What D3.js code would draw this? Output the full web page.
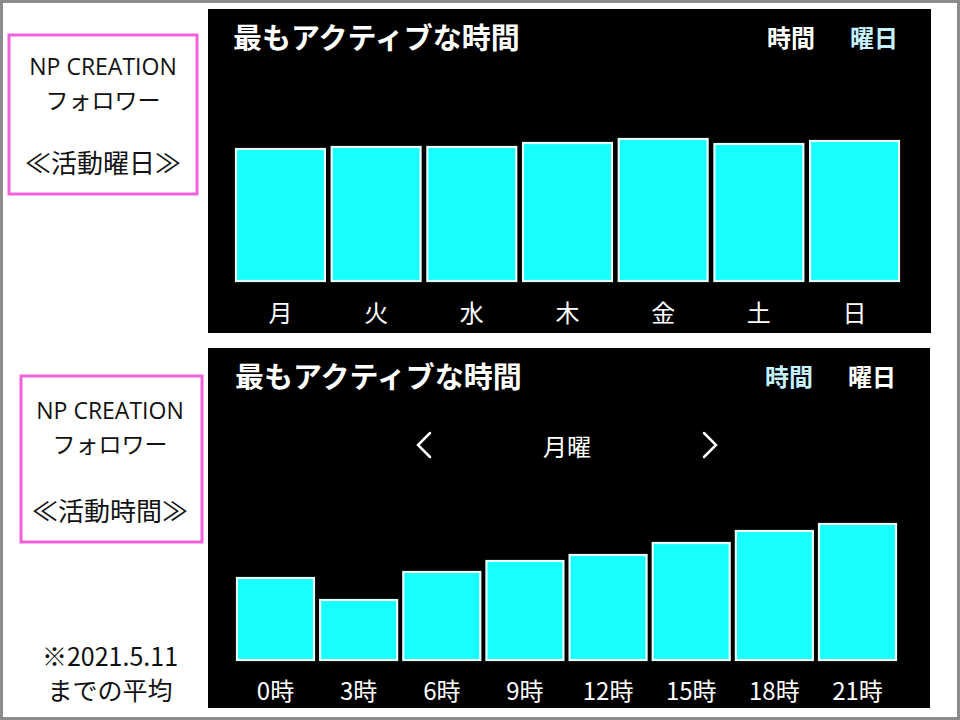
<!DOCTYPE html>
<html><head><meta charset="utf-8">
<script src="https://cdn.jsdelivr.net/npm/d3@7"></script>
<style>html,body{margin:0;padding:0;background:#fff;}svg{display:block;}</style>
</head><body>
<script>
// ---- data ----
const dayCategories = ["月", "火", "水", "木", "金", "土", "日"];
const dayValues = [134, 136, 136, 140, 144, 139, 142];
const hourCategories = ["0時", "3時", "6時", "9時", "12時", "15時", "18時", "21時"];
const hourValues = [84, 62, 90, 101, 107, 119, 131, 138];
const panelTitle = "最もアクティブな時間";
const tabLabels = ["時間", "曜日"];
const selectedDay = "月曜";
const box1Lines = ["NP CREATION", "フォロワー", "", "≪活動曜日≫"];
const box2Lines = ["NP CREATION", "フォロワー", "", "≪活動時間≫"];
const noteLines = ["※2021.5.11", "までの平均"];

const W = 960, H = 720;
const FONT = "'Noto Sans CJK JP','Noto Sans',sans-serif";
const LATIN = "'Open Sans','Noto Sans',sans-serif";
const CYAN = "#19ffff", EDGE = "#e6ffff", TABON = "#c4f2ff";

const svg = d3.select("body").append("svg").attr("width", W).attr("height", H)
  .style("font-family", FONT);

// outer frame
svg.append("rect").attr("x", 0).attr("y", 0).attr("width", W).attr("height", H).attr("fill", "#8c8c8c");
svg.append("rect").attr("x", 3).attr("y", 3).attr("width", W - 6).attr("height", H - 6).attr("fill", "#fff");

function panel(cfg) {
  const g = svg.append("g");
  g.append("rect").attr("x", cfg.x0).attr("y", cfg.y0).attr("width", cfg.x1 - cfg.x0)
    .attr("height", cfg.y1 - cfg.y0).attr("fill", "#000");
  g.append("text").attr("x", cfg.titleX).attr("y", cfg.y0 + 27)
    .attr("dominant-baseline", "central")
    .attr("fill", "#fff").attr("font-size", 29).attr("font-weight", 700).text(panelTitle);
  tabLabels.forEach((t, i) => {
    g.append("text").attr("x", cfg.tabX[i]).attr("y", cfg.y0 + 27)
      .attr("dominant-baseline", "central")
      .attr("text-anchor", "middle").attr("font-size", 24).attr("font-weight", 700)
      .attr("fill", i === cfg.activeTab ? TABON : "#fff").text(t);
  });
  const x = d3.scaleBand().domain(cfg.cats).range([cfg.bx0, cfg.bx1]).paddingInner(cfg.pad).paddingOuter(0);
  const y = d3.scaleLinear().domain([0, 200]).range([cfg.base, cfg.base - 200]);
  g.selectAll("rect.bar").data(cfg.vals).join("rect").attr("class", "bar")
    .attr("x", (d, i) => x(cfg.cats[i]) + 1)
    .attr("y", d => y(d) + 1)
    .attr("width", x.bandwidth() - 2)
    .attr("height", d => y(0) - y(d) - 2)
    .attr("fill", CYAN).attr("stroke", EDGE).attr("stroke-width", 2.2);
  const axis = d3.axisBottom(x).tickSize(0).tickPadding(0);
  const ag = g.append("g").attr("transform", `translate(0,${cfg.labelY})`).call(axis);
  ag.select(".domain").remove();
  ag.selectAll("text").attr("fill", "#fff").attr("font-size", cfg.labelSize)
    .attr("font-family", FONT).attr("dy", 0).attr("dominant-baseline", "central");
  return g;
}

panel({x0: 208, y0: 9, x1: 931, y1: 333, titleX: 233, tabX: [791, 874], activeTab: 1,
  cats: dayCategories, vals: dayValues, bx0: 235, bx1: 900, pad: 0.05, base: 282,
  labelY: 311, labelSize: 24});

const g2 = panel({x0: 208, y0: 348, x1: 930, y1: 708, titleX: 235, tabX: [789, 872], activeTab: 0,
  cats: hourCategories, vals: hourValues, bx0: 236, bx1: 897, pad: 0.05, base: 661,
  labelY: 689, labelSize: 24});

// day selector
g2.append("path").attr("d", "M430,433 L418,445 L430,457").attr("fill", "none")
  .attr("stroke", "#fff").attr("stroke-width", 2.5).attr("stroke-linecap", "round");
g2.append("path").attr("d", "M704,433 L716,445 L704,457").attr("fill", "none")
  .attr("stroke", "#fff").attr("stroke-width", 2.5).attr("stroke-linecap", "round");
g2.append("text").attr("x", 567).attr("y", 445).attr("text-anchor", "middle")
  .attr("dominant-baseline", "central").attr("fill", "#fff").attr("font-size", 24).text(selectedDay);

// side boxes
function sideBox(x0, y0, x1, y1, lines, ys, cx) {
  svg.append("rect").attr("x", x0).attr("y", y0).attr("width", x1 - x0).attr("height", y1 - y0)
    .attr("fill", "#fff").attr("stroke", "#f062dc").attr("stroke-width", 3);
  lines.forEach((t, i) => {
    if (!t) return;
    svg.append("text").attr("x", cx).attr("y", ys[i]).attr("text-anchor", "middle")
      .attr("dominant-baseline", "central").attr("fill", "#111")
      .attr("font-family", i === 0 ? LATIN : FONT)
      .attr("font-size", [23, 23, 0, 26][i]).text(t);
  });
}
sideBox(9, 35, 197, 194, box1Lines, [66, 99, 0, 161], 103);
sideBox(21, 376, 202, 542, box2Lines, [410, 443, 0, 509], 110);

noteLines.forEach((t, i) => {
  svg.append("text").attr("x", 110).attr("y", [655, 689][i]).attr("text-anchor", "middle")
    .attr("dominant-baseline", "central").attr("fill", "#111").attr("font-size", 25).text(t);
});
</script>
</body></html>
